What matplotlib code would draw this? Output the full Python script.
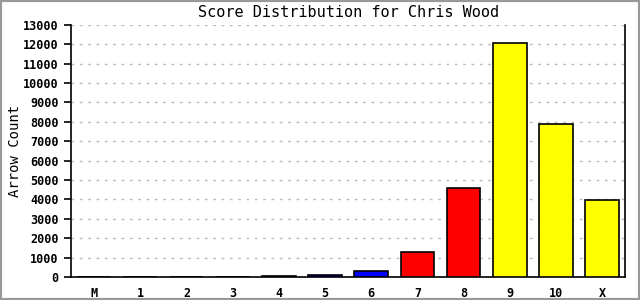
import matplotlib
matplotlib.use("Agg")
import matplotlib.pyplot as plt
from matplotlib.patches import Rectangle

categorias = ['M', '1', '2', '3', '4', '5', '6', '7', '8', '9', '10', 'X']
contagens = [0, 0, 0, 0, 50, 90, 300, 1280, 4580, 12070, 7900, 3970]
cores = ['white', 'white', 'black', 'black', 'black', 'blue', 'blue', 'red',
         'red', 'yellow', 'yellow', 'yellow']

plt.rcParams['font.family'] = 'DejaVu Sans Mono'

fig = plt.figure(figsize=(6.4, 3.0), dpi=100)
ax = fig.add_axes([0.111, 0.077, 0.866, 0.840])

posicoes = list(range(len(categorias)))
ax.bar(posicoes, contagens, width=0.73, color=cores, edgecolor='black', linewidth=1.2, zorder=3)

ax.set_xlim(-0.5, len(categorias) - 0.5)
ax.set_ylim(0, 13000)
ax.set_yticks(range(0, 13001, 1000))
ax.set_xticks(posicoes)
ax.set_xticklabels(categorias)
ax.tick_params(axis='y', labelsize=8.5, length=5, width=1.2, direction='out', pad=4)
ax.tick_params(axis='x', labelsize=8.5, length=0, pad=7)
for lbl in ax.get_yticklabels() + ax.get_xticklabels():
    lbl.set_fontweight('bold')

ax.grid(True, axis='y', color='#bbbbbb', linestyle=(0, (2, 4)), linewidth=1, zorder=0)
ax.spines['top'].set_visible(False)
for s in ['left', 'right', 'bottom']:
    ax.spines[s].set_linewidth(1.2)

ax.set_ylabel('Arrow Count', fontsize=10)
ax.yaxis.set_label_coords(-0.088, 0.5)
ax.set_title('Score Distribution for Chris Wood', fontsize=11, pad=6)

fig.patches.append(Rectangle((0, 0), 1, 1, transform=fig.transFigure, fill=False,
                             edgecolor='#999999', linewidth=3))

plt.savefig('out.png', dpi=100)
